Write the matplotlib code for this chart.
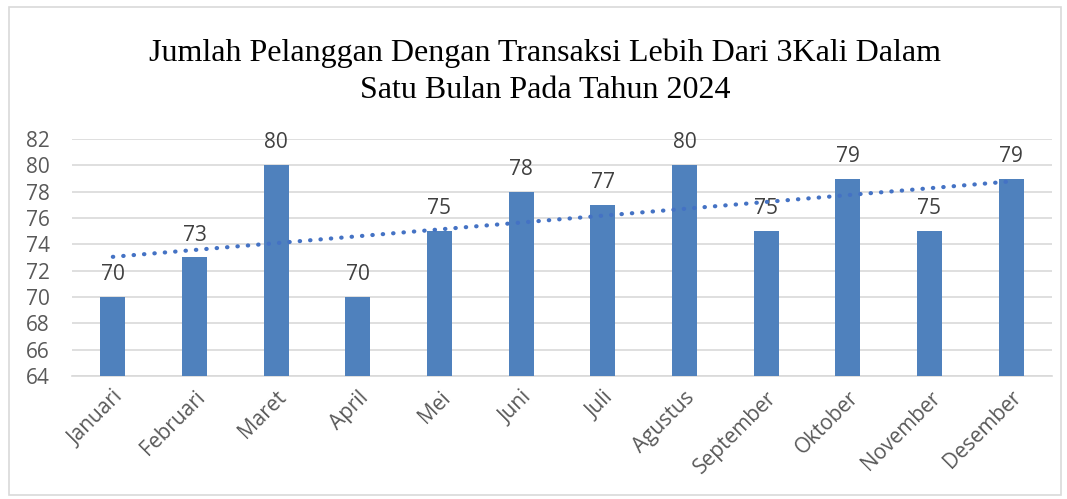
import numpy as np
import matplotlib.pyplot as plt
from matplotlib.patches import Rectangle

## data
bulan = ['Januari', 'Februari', 'Maret', 'April', 'Mei', 'Juni', 'Juli',
         'Agustus', 'September', 'Oktober', 'November', 'Desember']
jumlah = [70, 73, 80, 70, 75, 78, 77, 80, 75, 79, 75, 79]
y_ticks = [64, 66, 68, 70, 72, 74, 76, 78, 80, 82]
judul = 'Jumlah Pelanggan Dengan Transaksi Lebih Dari 3Kali Dalam\nSatu Bulan Pada Tahun 2024'

fig = plt.figure(figsize=(10.67, 4.99), dpi=100)
ax = fig.add_axes([72/1067, 1 - 376/499, (1052-72)/1067, (376-139)/499])

# chart border
fig.patches.append(Rectangle((9/1067, 4/499), 1052/1067, 488/499, transform=fig.transFigure,
                             fill=False, edgecolor='#d9d9d9', linewidth=1.2))

x = np.arange(len(bulan))
ax.bar(x, jumlah, width=0.31, color='#4f81bd', zorder=3)

# linear trend
k, b = np.polyfit(x, jumlah, 1)
ax.plot(x, k*x + b, linestyle=(0, (0.1, 2.4)), dash_capstyle='round',
        color='#4472c4', linewidth=3, zorder=4)

for xi, v in zip(x, jumlah):
    ax.text(xi, v + 0.9, str(v), ha='center', va='bottom', fontsize=15,
            color='#404040', family='Open Sans')

ax.set_xlim(-0.5, len(bulan) - 0.5)
ax.set_ylim(64, 82)
ax.set_yticks(y_ticks)
ax.set_yticklabels([str(t) for t in y_ticks], fontsize=15, color='#595959', family='Open Sans')
ax.set_xticks(x)
ax.set_xticklabels(bulan, rotation=45, ha='right', rotation_mode='anchor',
                   fontsize=15, color='#595959', family='Open Sans')
ax.tick_params(length=0, pad=8)
ax.tick_params(axis='y', pad=16)
ax.grid(axis='y', color='#d9d9d9', linewidth=1.2, zorder=0)
for s in ['top', 'right', 'left']:
    ax.spines[s].set_visible(False)
ax.spines['bottom'].set_color('#d9d9d9')
ax.spines['bottom'].set_linewidth(1.2)

fig.text(545/1067, 1 - 72/499, judul, ha='center', va='center', fontsize=23,
         family='Liberation Serif', linespacing=1.35)

plt.savefig('out.png', dpi=100)
